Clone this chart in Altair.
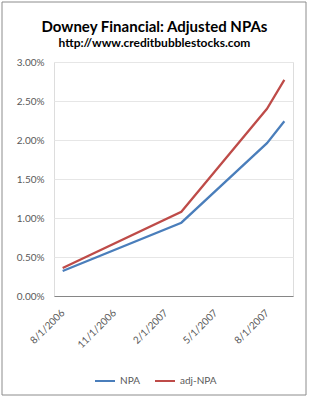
import altair as alt
import pandas as pd

dates = ["2006-08-01", "2007-03-01", "2007-08-01", "2007-09-01"]
npa = [0.0032, 0.0094, 0.0196, 0.0224]
adj_npa = [0.0036, 0.0108, 0.0240, 0.0277]
series_names = ["NPA", "adj-NPA"]
colors = ["#4a7ebb", "#be4b48"]
tick_dates = ["2006-08-01", "2006-11-01", "2007-02-01", "2007-05-01", "2007-08-01"]
y_ticks = [0, 0.005, 0.01, 0.015, 0.02, 0.025, 0.03]

rows = []
for d, a, b in zip(dates, npa, adj_npa):
    rows.append({"date": d, "series": series_names[0], "value": a})
    rows.append({"date": d, "series": series_names[1], "value": b})
df = pd.DataFrame(rows)

FONT = "Lato"

x = alt.X(
    "date:T",
    scale=alt.Scale(type="utc", domain=["2006-07-16T12:00:00", "2007-09-16T12:00:00"]),
    axis=alt.Axis(
        values=tick_dates,
        labelExpr="utcFormat(datum.value, '%-m/%-d/%Y')",
        labelAngle=-45,
        labelAlign="right",
        labelBaseline="middle",
        labelPadding=15,
        ticks=False,
        grid=False,
        domain=True,
        domainColor="#868686",
        labelColor="#595959",
        labelFontSize=10,
        labelFont=FONT,
        title=None,
        labelOverlap=False,
    ),
)
y = alt.Y(
    "value:Q",
    scale=alt.Scale(domain=[0, 0.03], nice=False),
    axis=alt.Axis(
        values=y_ticks,
        format=".2%",
        ticks=False,
        domain=False,
        grid=True,
        gridColor="#e6e6e6",
        labelPadding=10,
        labelColor="#595959",
        labelFontSize=10,
        labelFont=FONT,
        title=None,
    ),
)

lines = alt.Chart(df).mark_line(strokeWidth=2.25).encode(
    x=x,
    y=y,
    color=alt.Color(
        "series:N",
        scale=alt.Scale(domain=series_names, range=colors),
        legend=alt.Legend(
            title=None,
            orient="none",
            legendX=40,
            legendY=308,
            direction="horizontal",
            symbolType="stroke",
            symbolSize=400,
            symbolStrokeWidth=2,
            labelFont=FONT,
            labelFontSize=10,
            labelColor="#595959",
            columnPadding=11,
        ),
    ),
)

frame = alt.Chart(pd.DataFrame({"k": [0]})).mark_rect(
    fill=None, stroke="#8c8c8c", strokeWidth=1
).encode(
    x=alt.value(-52), x2=alt.value(252), y=alt.value(-60), y2=alt.value(333)
)

chart = alt.layer(frame, lines).properties(
    width=239,
    height=234,
    autosize=alt.AutoSizeParams(type="none"),
    padding={"left": 54, "top": 62, "right": 16, "bottom": 104},
    title=alt.TitleParams(
        text="Downey Financial: Adjusted NPAs",
        subtitle="http://www.creditbubblestocks.com",
        anchor="middle",
        frame="group",
        dx=-19,
        offset=-47,
        font=FONT,
        fontSize=15,
        fontWeight="bold",
        color="#000000",
        subtitleFont=FONT,
        subtitleFontSize=12,
        subtitleFontWeight="bold",
        subtitleColor="#000000",
        subtitlePadding=3,
    ),
).configure_view(stroke=None).configure(background="white")

chart.save("out.html", embed_options={"renderer": "svg", "actions": False})
